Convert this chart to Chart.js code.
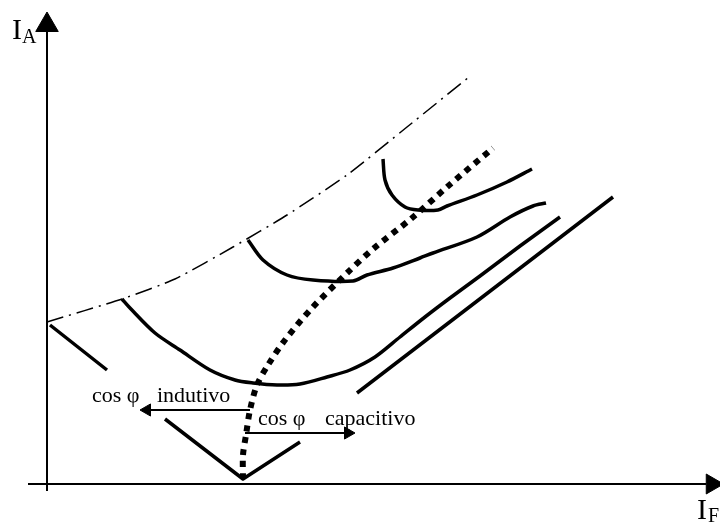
<!DOCTYPE html>
<html>
<head>
<meta charset="utf-8">
<script src="https://cdn.jsdelivr.net/npm/chart.js@4"></script>
<style>
  html, body { margin: 0; padding: 0; background: #fff; }
  #wrap { width: 720px; height: 523px; position: relative; }
</style>
</head>
<body>
<div id="wrap"><canvas id="chart"></canvas></div>
<script>
// units: I_F along x, I_A along y (origin where the axes cross)

// no-load / limit line (dash-dot)
const limitX = [0, 7.5, 12.8, 18.6, 24.0, 30.0, 36.0, 42.2];
const limitY = [16.2, 18.5, 20.5, 23.7, 26.9, 30.9, 35.7, 40.7];

// V curve at zero load (gaps where the text boxes cover it)
const v0X = [0.3, 6.0, 8.5, 11.8, 19.6, 25.3, 28.0, 31.0, 56.6];
const v0Y = [15.9, 11.4, null, 6.5, 0.5, 4.2, null, 9.1, 28.7];

// V curve, light load
const v1X = [7.5, 8.3, 10.8, 13.3, 16.3, 18.8, 20.6, 23.0, 25.3, 28.0, 30.3, 32.8, 35.3, 37.8, 40.3, 43.3, 47.3, 51.3];
const v1Y = [18.5, 17.6, 15.1, 13.4, 11.4, 10.4, 10.1, 9.9, 10.0, 10.7, 11.4, 12.7, 14.7, 16.7, 18.6, 20.8, 23.8, 26.7];

// V curve, medium load
const v2X = [20.1, 21.6, 24.0, 26.6, 30.6, 32.0, 34.6, 37.3, 38.6, 43.0, 46.3, 48.6, 49.9];
const v2Y = [24.4, 22.4, 20.9, 20.4, 20.3, 20.9, 21.6, 22.6, 23.1, 24.7, 26.7, 27.8, 28.1];

// V curve, full load
const v3X = [33.6, 33.8, 34.5, 35.8, 37.1, 39.1, 40.0, 43.0, 46.0, 48.5];
const v3Y = [32.5, 30.4, 28.9, 27.7, 27.4, 27.4, 27.8, 28.9, 30.2, 31.5];

// cos φ = 1 locus (dotted)
const unityX = [19.6, 19.6, 19.9, 20.3, 21.0, 22.1, 23.8, 26.5, 30.0, 32.6, 36.5, 40.0, 44.6];
const unityY = [0.5, 2.9, 4.9, 7.4, 9.9, 11.9, 14.4, 17.6, 21.1, 23.5, 26.6, 29.7, 33.6];

// axes
const axisVX = [0, 0];
const axisVY = [-0.7, 45.2];
const axisHX = [-1.9, 65.9];
const axisHY = [0, 0];

// small arrows under the curves
const indX = [20.3, 10.0];
const indY = [7.4, 7.4];
const capX = [19.8, 30.1];
const capY = [5.1, 5.1];

const labels = [
  { text: 'I', x: -3.5, y: 44.5, size: 30 },
  { text: 'A', x: -2.5, y: 44.1, size: 20 },
  { text: 'I', x: 65.0, y: -3.5, size: 30 },
  { text: 'F', x: 66.1, y: -3.8, size: 20 },
  { text: 'cos φ', x: 4.5, y: 8.2, size: 22 },
  { text: 'indutivo', x: 11.0, y: 8.2, size: 22 },
  { text: 'cos φ', x: 21.1, y: 5.9, size: 22 },
  { text: 'capacitivo', x: 27.8, y: 5.9, size: 22 }
];

const pts = (xs, ys) => xs.map((x, i) => ({ x, y: ys[i] }));

function curve(xs, ys, extra) {
  return Object.assign({
    data: pts(xs, ys),
    showLine: true,
    borderColor: '#000',
    borderWidth: 3.5,
    pointRadius: 0,
    tension: 0.3,
    spanGaps: false,
    borderCapStyle: 'butt',
    borderJoinStyle: 'round'
  }, extra || {});
}

const textPlugin = {
  id: 'texts',
  afterDatasetsDraw(chart) {
    const { ctx, scales: { x, y } } = chart;
    ctx.save();
    ctx.fillStyle = '#000';
    ctx.textBaseline = 'alphabetic';
    ctx.textAlign = 'left';
    labels.forEach(l => {
      ctx.font = l.size + 'px "Liberation Serif", "Times New Roman", serif';
      ctx.fillText(l.text, x.getPixelForValue(l.x), y.getPixelForValue(l.y));
    });
    ctx.restore();
  }
};

new Chart(document.getElementById('chart'), {
  type: 'scatter',
  data: {
    datasets: [
      curve(axisVX, axisVY, { borderWidth: 2, tension: 0 }),
      curve(axisHX, axisHY, { borderWidth: 2, tension: 0 }),
      // arrowheads of the axes
      {
        data: [{ x: 0, y: 45.9 }],
        pointStyle: 'triangle', pointRadius: 13, rotation: 0,
        pointBackgroundColor: '#000', pointBorderColor: '#000', pointBorderWidth: 1
      },
      {
        data: [{ x: 66.5, y: 0 }],
        pointStyle: 'triangle', pointRadius: 11.5, rotation: 90,
        pointBackgroundColor: '#000', pointBorderColor: '#000', pointBorderWidth: 1
      },
      curve(limitX, limitY, { borderWidth: 1.5, borderDash: [17, 6, 2, 6], tension: 0.2 }),
      curve(v0X, v0Y, { tension: 0 }),
      curve(v1X, v1Y),
      curve(v2X, v2Y),
      curve(v3X, v3Y),
      curve(unityX, unityY, { borderWidth: 6, borderDash: [6, 6], tension: 0.3 }),
      curve(indX, indY, { borderWidth: 2, tension: 0 }),
      curve(capX, capY, { borderWidth: 2, tension: 0 }),
      {
        data: [{ x: indX[1], y: indY[1] }],
        pointStyle: 'triangle', pointRadius: 7, rotation: -90,
        pointBackgroundColor: '#000', pointBorderColor: '#000', pointBorderWidth: 1
      },
      {
        data: [{ x: capX[1], y: capY[1] }],
        pointStyle: 'triangle', pointRadius: 7, rotation: 90,
        pointBackgroundColor: '#000', pointBorderColor: '#000', pointBorderWidth: 1
      }
    ]
  },
  options: {
    responsive: true,
    maintainAspectRatio: false,
    animation: false,
    layout: { padding: 0, autoPadding: false },
    scales: {
      x: { type: 'linear', min: -4.7, max: 67.3, display: false },
      y: { type: 'linear', min: -3.9, max: 48.4, display: false }
    },
    plugins: {
      legend: { display: false },
      tooltip: { enabled: false }
    }
  },
  plugins: [textPlugin]
});
</script>
</body>
</html>
